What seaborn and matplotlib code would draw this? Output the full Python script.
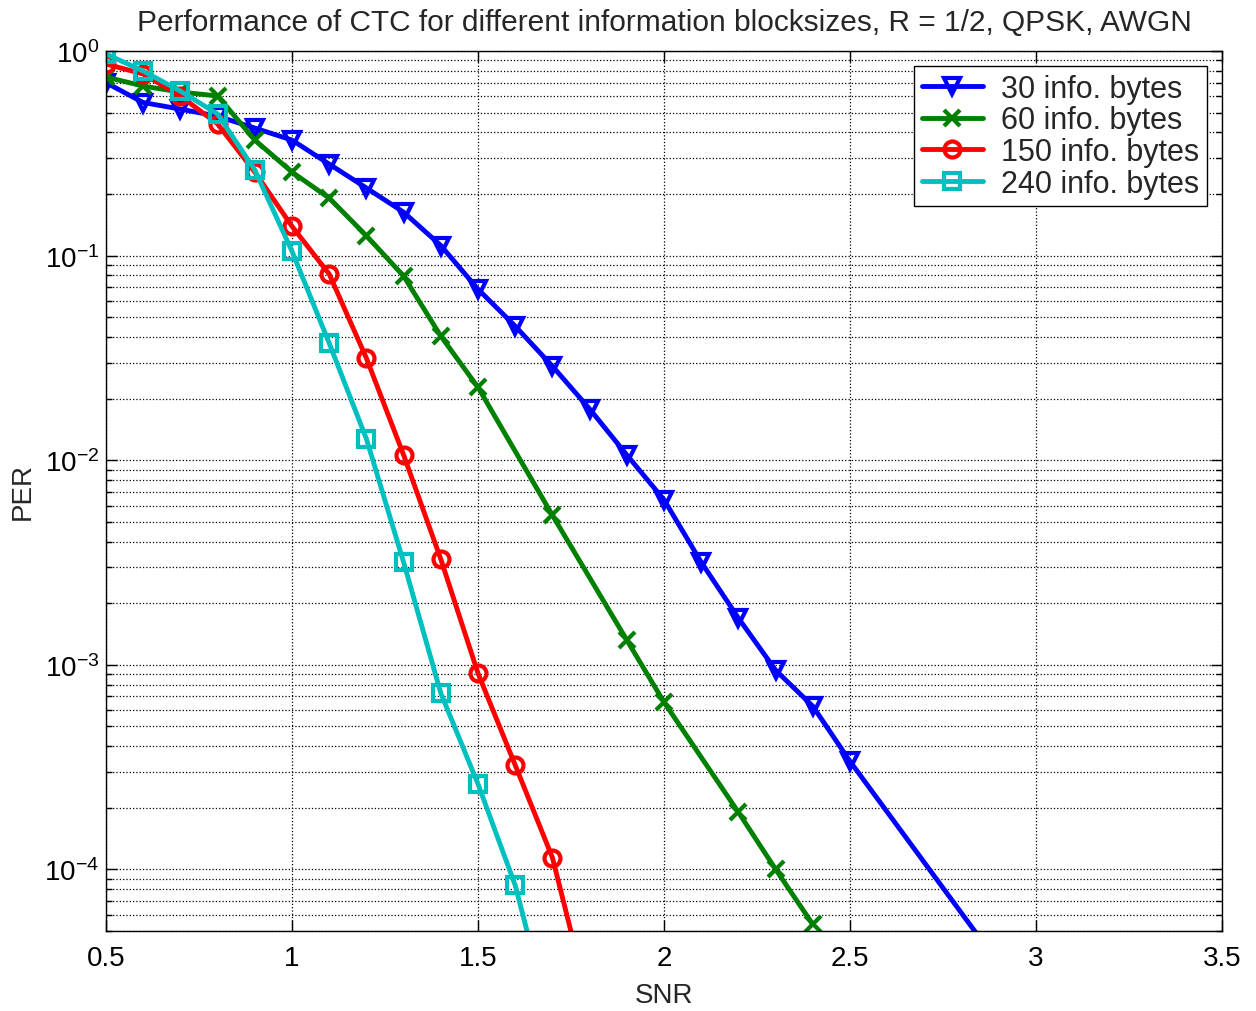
import numpy as np
import pandas as pd
import seaborn as sns
import matplotlib
matplotlib.use("Agg")
import matplotlib.pyplot as plt
from matplotlib.ticker import LogLocator, MultipleLocator, NullFormatter

# SNR points and PER values
snr_30 = [0.5, 0.6, 0.7, 0.8, 0.9, 1.0, 1.1, 1.2, 1.3, 1.4, 1.5, 1.6, 1.7, 1.8,
          1.9, 2.0, 2.1, 2.2, 2.3, 2.4, 2.5, 3.0]
per_30 = [0.70, 0.56, 0.52, 0.48, 0.42, 0.367, 0.28, 0.214, 0.163, 0.112, 0.0685,
          0.0452, 0.0288, 0.0178, 0.0106, 0.0064, 0.00317, 0.00169, 0.00094,
          0.000627, 0.000337, 1.95e-5]

snr_60 = [0.5, 0.6, 0.7, 0.8, 0.9, 1.0, 1.1, 1.2, 1.3, 1.4, 1.5, 1.7, 1.9, 2.0,
          2.2, 2.3, 2.4]
per_60 = [0.746, 0.674, 0.630, 0.603, 0.367, 0.256, 0.191, 0.125, 0.0794, 0.0404,
          0.0227, 0.00538, 0.00132, 0.000656, 0.000190, 0.000100, 5.38e-5]

snr_150 = [0.5, 0.6, 0.7, 0.8, 0.9, 1.0, 1.1, 1.2, 1.3, 1.4, 1.5, 1.6, 1.7, 1.8]
per_150 = [0.864, 0.772, 0.603, 0.440, 0.256, 0.139, 0.0812, 0.0315, 0.0106,
           0.00328, 0.000908, 0.000323, 0.000114, 2.16e-5]

snr_240 = [0.5, 0.6, 0.7, 0.8, 0.9, 1.0, 1.1, 1.2, 1.3, 1.4, 1.5, 1.6, 1.7]
per_240 = [0.967, 0.798, 0.637, 0.492, 0.262, 0.105, 0.0373, 0.0127, 0.00317,
           0.000726, 0.000261, 8.35e-5, 1.65e-5]

series = [
    ('30 info. bytes', snr_30, per_30, (0, 0, 1), 'v'),
    ('60 info. bytes', snr_60, per_60, (0, 0.5, 0), 'x'),
    ('150 info. bytes', snr_150, per_150, (1, 0, 0), 'o'),
    ('240 info. bytes', snr_240, per_240, (0, 0.75, 0.75), 's'),
]

sns.set_style('ticks')
plt.rcParams['font.family'] = ['Liberation Sans', 'DejaVu Sans']
plt.rcParams['mathtext.fontset'] = 'custom'
plt.rcParams['mathtext.rm'] = 'Liberation Sans'
plt.rcParams['mathtext.it'] = 'Liberation Sans'

fig = plt.figure(figsize=(12.56, 10.12), dpi=100)
ax = fig.add_axes([0.0844, 0.0791, 0.8886, 0.8695])

for label, x, y, color, marker in series:
    df = pd.DataFrame({'SNR': x, 'PER': y})
    sns.lineplot(data=df, x='SNR', y='PER', ax=ax, label=label, color=color,
                 marker=marker, markersize=11.5, markerfacecolor='none',
                 markeredgecolor=color, markeredgewidth=3, linewidth=3.5)

ax.set_yscale('log')
ax.set_xlim(0.5, 3.5)
ax.set_ylim(5e-5, 1)
ax.xaxis.set_major_locator(MultipleLocator(0.5))
ax.xaxis.set_major_formatter(plt.FuncFormatter(lambda v, p: f'{v:g}'))
ax.yaxis.set_major_locator(LogLocator(base=10, numticks=10))
ax.yaxis.set_minor_locator(LogLocator(base=10, subs=np.arange(2, 10), numticks=20))
ax.yaxis.set_minor_formatter(NullFormatter())

ax.grid(True, which='major', linestyle=':', color='black', linewidth=0.9)
ax.grid(True, which='minor', axis='y', linestyle=':', color='black', linewidth=0.9)
ax.tick_params(which='both', direction='in', top=True, right=True,
               labelsize=20, colors='black')
ax.tick_params(which='major', length=8, width=1)
ax.tick_params(axis='x', which='major', pad=10)
ax.tick_params(axis='y', which='major', pad=5)
ax.tick_params(which='minor', length=4, width=1)
for s in ax.spines.values():
    s.set_color('black')
    s.set_linewidth(1)

ax.set_xlabel('SNR', fontsize=20, labelpad=8)
ax.set_ylabel('PER', fontsize=20, labelpad=6)
ax.set_title('Performance of CTC for different information blocksizes, R = 1/2, QPSK, AWGN',
             fontsize=21.5, pad=15)

leg = ax.legend(loc='upper right', fontsize=22, frameon=True, fancybox=False,
                edgecolor='black', framealpha=1, borderaxespad=0.5,
                handlelength=2.0, handletextpad=0.6, labelspacing=0.05,
                borderpad=0.25)
leg.get_frame().set_linewidth(1)

fig.savefig('out.png', dpi=100)
